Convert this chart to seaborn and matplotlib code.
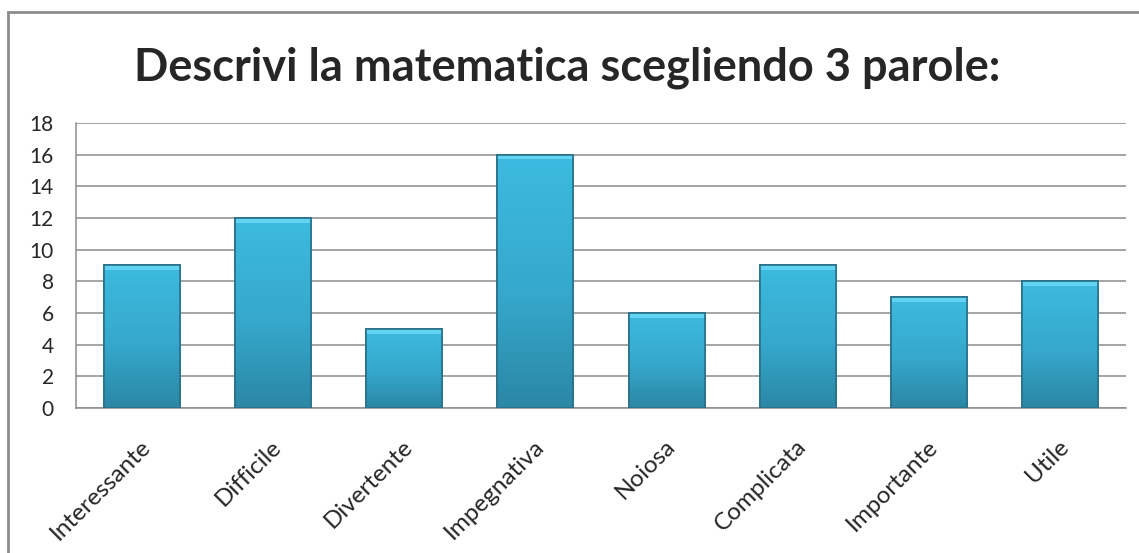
import matplotlib
matplotlib.use("Agg")
import matplotlib.pyplot as plt
import matplotlib.transforms as mtransforms
import seaborn as sns
import numpy as np
import pandas as pd
from matplotlib.patches import Rectangle
from matplotlib.colors import LinearSegmentedColormap

# Data
categories = ['Interessante', 'Difficile', 'Divertente', 'Impegnativa',
              'Noiosa', 'Complicata', 'Importante', 'Utile']
counts = [9, 12, 5, 16, 6, 9, 7, 8]
y_ticks = [0, 2, 4, 6, 8, 10, 12, 14, 16, 18]
title = "Descrivi la matematica scegliendo 3 parole:"

df = pd.DataFrame({'parola': categories, 'n': counts})

sns.set_style("white")
plt.rcParams['font.family'] = ['Lato', 'DejaVu Sans']

fig = plt.figure(figsize=(11.39, 5.53), dpi=100)
ax = fig.add_axes([0.0667, 0.2622, 0.9219, 0.5154])

sns.barplot(data=df, x='parola', y='n', ax=ax, color='#3ab4da',
            saturation=1, width=0.58, edgecolor='#2a7088', linewidth=1.2,
            zorder=3)

# vertical gradient fill to mimic the bevelled Excel bars
grad = LinearSegmentedColormap.from_list(
    'bar', [(0.0, '#2b87a5'), (0.45, '#35a8cc'), (1.0, '#3dbbe0')])
g = np.linspace(0, 1, 256).reshape(-1, 1)
for p in list(ax.patches):
    x0, y0 = p.get_x(), p.get_y()
    w, h = p.get_width(), p.get_height()
    im = ax.imshow(g, cmap=grad, origin='lower', aspect='auto',
                   extent=[x0, x0 + w, y0, y0 + h], zorder=3.5)
    im.set_clip_path(p)
    # light bevel strip along the top
    ax.add_patch(Rectangle((x0, y0 + h - 0.3), w, 0.3, facecolor='#62d3f2',
                           edgecolor='none', zorder=3.8))
    ax.add_patch(Rectangle((x0, y0), w, h, fill=False,
                           edgecolor='#2a7088', linewidth=1.2, zorder=4))

ax.set_xlim(-0.5, len(categories) - 0.5)
ax.set_ylim(0, 18)
ax.set_yticks(y_ticks)
ax.yaxis.grid(True, color='#8c8c8c', linewidth=1.1, zorder=0)
ax.set_axisbelow(True)
for side in ['top', 'right']:
    ax.spines[side].set_visible(False)
for side in ['left', 'bottom']:
    ax.spines[side].set_color('#8c8c8c')
    ax.spines[side].set_linewidth(1.1)

ax.set_xlabel('')
ax.set_ylabel('')
ax.tick_params(axis='y', length=0, pad=16, labelsize=15)
ax.tick_params(axis='x', length=0, pad=20, labelsize=17.5)
shift = mtransforms.ScaledTranslation(-2 / 100, 0, fig.dpi_scale_trans)
for lbl in ax.get_xticklabels():
    lbl.set_rotation(45)
    lbl.set_ha('right')
    lbl.set_rotation_mode('anchor')
    lbl.set_transform(lbl.get_transform() + shift)

fig.text(0.498, 0.855, title, ha='center', va='baseline',
         fontsize=32.5, fontweight='bold')

# outer chart border
fig.patches.append(Rectangle((8 / 1139, -0.1), 1.2, 1 - 12 / 553 + 0.1,
                             transform=fig.transFigure, fill=False,
                             edgecolor='#8c8c8c', linewidth=2))

fig.savefig("out.png", dpi=100)
